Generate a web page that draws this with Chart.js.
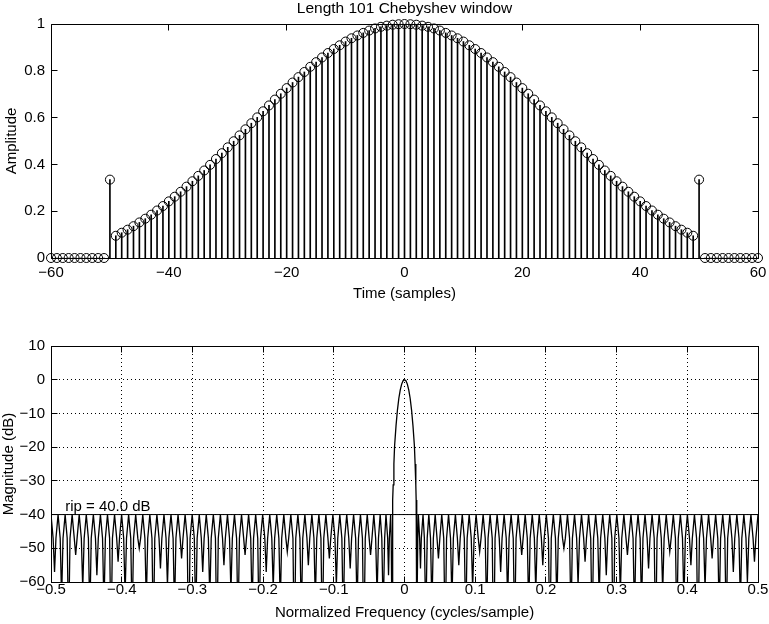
<!DOCTYPE html>
<html>
<head>
<meta charset="utf-8">
<title>Length 101 Chebyshev window</title>
<script src="https://cdn.jsdelivr.net/npm/chart.js@4.4.1/dist/chart.umd.min.js"></script>
<style>
    html, body { margin: 0; padding: 0; background: #fff; }
    .panel { position: absolute; left: 0; width: 769px; height: 312px; }
    #top-panel { top: 0; }
    #bottom-panel { top: 312px; }
</style>
</head>
<body>
<div class="panel" id="top-panel"><canvas id="window-chart" width="769" height="312"></canvas></div>
<div class="panel" id="bottom-panel"><canvas id="response-chart" width="769" height="312"></canvas></div>
<script>
// Time axis of the stem plot (samples)
const timeSamples = [
    -60, -59, -58, -57, -56, -55, -54, -53, -52, -51,
    -50, -49, -48, -47, -46, -45, -44, -43, -42, -41,
    -40, -39, -38, -37, -36, -35, -34, -33, -32, -31,
    -30, -29, -28, -27, -26, -25, -24, -23, -22, -21,
    -20, -19, -18, -17, -16, -15, -14, -13, -12, -11,
    -10, -9, -8, -7, -6, -5, -4, -3, -2, -1,
    0,
    1, 2, 3, 4, 5, 6, 7, 8, 9, 10,
    11, 12, 13, 14, 15, 16, 17, 18, 19, 20,
    21, 22, 23, 24, 25, 26, 27, 28, 29, 30,
    31, 32, 33, 34, 35, 36, 37, 38, 39, 40,
    41, 42, 43, 44, 45, 46, 47, 48, 49, 50,
    51, 52, 53, 54, 55, 56, 57, 58, 59, 60
];

// Window amplitude at each sample
const windowAmplitude = [
    0, 0, 0, 0, 0, 0, 0, 0, 0, 0,
    0.335, 0.095, 0.108, 0.121, 0.136, 0.152, 0.168, 0.185, 0.203, 0.222,
    0.242, 0.262, 0.283, 0.305, 0.328, 0.351, 0.374, 0.398, 0.423, 0.448,
    0.473, 0.499, 0.524, 0.550, 0.576, 0.601, 0.627, 0.652, 0.677, 0.702,
    0.726, 0.750, 0.773, 0.795, 0.817, 0.837, 0.857, 0.876, 0.893, 0.909,
    0.925, 0.939, 0.951, 0.962, 0.972, 0.981, 0.988, 0.993, 0.997, 0.999,
    1.000,
    0.999, 0.997, 0.993, 0.988, 0.981, 0.972, 0.962, 0.951, 0.939, 0.925,
    0.909, 0.893, 0.876, 0.857, 0.837, 0.817, 0.795, 0.773, 0.750, 0.726,
    0.702, 0.677, 0.652, 0.627, 0.601, 0.576, 0.550, 0.524, 0.499, 0.473,
    0.448, 0.423, 0.398, 0.374, 0.351, 0.328, 0.305, 0.283, 0.262, 0.242,
    0.222, 0.203, 0.185, 0.168, 0.152, 0.136, 0.121, 0.108, 0.095, 0.335,
    0, 0, 0, 0, 0, 0, 0, 0, 0, 0
];

// Frequency response: normalized frequency (cycles/sample) and magnitude (dB)
const freqAxis = [
    -0.5,
    -0.4970, -0.4950, -0.4930, -0.4900,
    -0.4870, -0.4850, -0.4830, -0.4800,
    -0.4771, -0.4751, -0.4731, -0.4701,
    -0.4671, -0.4651, -0.4631, -0.4601,
    -0.4571, -0.4551, -0.4531, -0.4501,
    -0.4471, -0.4451, -0.4431, -0.4401,
    -0.4371, -0.4351, -0.4331, -0.4301,
    -0.4271, -0.4251, -0.4231, -0.4201,
    -0.4171, -0.4151, -0.4131, -0.4101,
    -0.4071, -0.4051, -0.4031, -0.4001,
    -0.3972, -0.3952, -0.3932, -0.3902,
    -0.3872, -0.3852, -0.3832, -0.3802,
    -0.3772, -0.3752, -0.3732, -0.3702,
    -0.3672, -0.3652, -0.3632, -0.3602,
    -0.3572, -0.3552, -0.3532, -0.3502,
    -0.3472, -0.3452, -0.3432, -0.3402,
    -0.3373, -0.3353, -0.3333, -0.3303,
    -0.3273, -0.3253, -0.3233, -0.3203,
    -0.3173, -0.3153, -0.3133, -0.3103,
    -0.3073, -0.3053, -0.3033, -0.3003,
    -0.2973, -0.2953, -0.2933, -0.2903,
    -0.2874, -0.2854, -0.2834, -0.2804,
    -0.2774, -0.2754, -0.2734, -0.2704,
    -0.2674, -0.2654, -0.2634, -0.2604,
    -0.2574, -0.2554, -0.2534, -0.2504,
    -0.2475, -0.2455, -0.2435, -0.2405,
    -0.2375, -0.2355, -0.2335, -0.2305,
    -0.2275, -0.2255, -0.2235, -0.2205,
    -0.2175, -0.2155, -0.2135, -0.2105,
    -0.2076, -0.2056, -0.2036, -0.2006,
    -0.1976, -0.1956, -0.1936, -0.1906,
    -0.1877, -0.1857, -0.1837, -0.1807,
    -0.1777, -0.1757, -0.1737, -0.1707,
    -0.1678, -0.1658, -0.1638, -0.1608,
    -0.1578, -0.1558, -0.1538, -0.1508,
    -0.1479, -0.1459, -0.1439, -0.1409,
    -0.1380, -0.1360, -0.1340, -0.1310,
    -0.1281, -0.1261, -0.1241, -0.1211,
    -0.1182, -0.1162, -0.1142, -0.1112,
    -0.1083, -0.1063, -0.1043, -0.1013,
    -0.0984, -0.0964, -0.0944, -0.0915,
    -0.0886, -0.0866, -0.0846, -0.0817,
    -0.0788, -0.0768, -0.0748, -0.0720,
    -0.0691, -0.0671, -0.0651, -0.0623,
    -0.0595, -0.0575, -0.0555, -0.0527,
    -0.0500, -0.0480, -0.0460, -0.0434,
    -0.0408, -0.0388, -0.0368, -0.0344,
    -0.0321, -0.0301, -0.0281, -0.0262,
    -0.0238, -0.0226, -0.0214, -0.0196,
    -0.0188, -0.0176,
    -0.017, -0.0165, -0.016, -0.015, -0.014, -0.012, -0.010, -0.008, -0.006, -0.004, -0.002,
    0,
    0.002, 0.004, 0.006, 0.008, 0.010, 0.012, 0.014, 0.015, 0.016, 0.0165, 0.017,
    0.0176, 0.0188, 0.0196,
    0.0214, 0.0226, 0.0238, 0.0262,
    0.0281, 0.0301, 0.0321, 0.0344,
    0.0368, 0.0388, 0.0408, 0.0434,
    0.0460, 0.0480, 0.0500, 0.0527,
    0.0555, 0.0575, 0.0595, 0.0623,
    0.0651, 0.0671, 0.0691, 0.0720,
    0.0748, 0.0768, 0.0788, 0.0817,
    0.0846, 0.0866, 0.0886, 0.0915,
    0.0944, 0.0964, 0.0984, 0.1013,
    0.1043, 0.1063, 0.1083, 0.1112,
    0.1142, 0.1162, 0.1182, 0.1211,
    0.1241, 0.1261, 0.1281, 0.1310,
    0.1340, 0.1360, 0.1380, 0.1409,
    0.1439, 0.1459, 0.1479, 0.1508,
    0.1538, 0.1558, 0.1578, 0.1608,
    0.1638, 0.1658, 0.1678, 0.1707,
    0.1737, 0.1757, 0.1777, 0.1807,
    0.1837, 0.1857, 0.1877, 0.1906,
    0.1936, 0.1956, 0.1976, 0.2006,
    0.2036, 0.2056, 0.2076, 0.2105,
    0.2135, 0.2155, 0.2175, 0.2205,
    0.2235, 0.2255, 0.2275, 0.2305,
    0.2335, 0.2355, 0.2375, 0.2405,
    0.2435, 0.2455, 0.2475, 0.2504,
    0.2534, 0.2554, 0.2574, 0.2604,
    0.2634, 0.2654, 0.2674, 0.2704,
    0.2734, 0.2754, 0.2774, 0.2804,
    0.2834, 0.2854, 0.2874, 0.2903,
    0.2933, 0.2953, 0.2973, 0.3003,
    0.3033, 0.3053, 0.3073, 0.3103,
    0.3133, 0.3153, 0.3173, 0.3203,
    0.3233, 0.3253, 0.3273, 0.3303,
    0.3333, 0.3353, 0.3373, 0.3402,
    0.3432, 0.3452, 0.3472, 0.3502,
    0.3532, 0.3552, 0.3572, 0.3602,
    0.3632, 0.3652, 0.3672, 0.3702,
    0.3732, 0.3752, 0.3772, 0.3802,
    0.3832, 0.3852, 0.3872, 0.3902,
    0.3932, 0.3952, 0.3972, 0.4001,
    0.4031, 0.4051, 0.4071, 0.4101,
    0.4131, 0.4151, 0.4171, 0.4201,
    0.4231, 0.4251, 0.4271, 0.4301,
    0.4331, 0.4351, 0.4371, 0.4401,
    0.4431, 0.4451, 0.4471, 0.4501,
    0.4531, 0.4551, 0.4571, 0.4601,
    0.4631, 0.4651, 0.4671, 0.4701,
    0.4731, 0.4751, 0.4771, 0.4800,
    0.4830, 0.4850, 0.4870, 0.4900,
    0.4930, 0.4950, 0.4970, 0.5
];

const magnitudeDb = [
    -40,
    -47, -57, -47, -40,
    -47, -65, -47, -40,
    -47, -76, -47, -40,
    -47, -52, -47, -40,
    -47, -62, -47, -40,
    -47, -71, -47, -40,
    -47, -58, -47, -40,
    -47, -68, -47, -40,
    -47, -79, -47, -40,
    -47, -54, -47, -40,
    -47, -64, -47, -40,
    -47, -73, -47, -40,
    -47, -50, -47, -40,
    -47, -66, -47, -40,
    -47, -77, -47, -40,
    -47, -56, -47, -40,
    -47, -61, -47, -40,
    -47, -69, -47, -40,
    -47, -53, -47, -40,
    -47, -84, -47, -40,
    -47, -72, -47, -40,
    -47, -57, -47, -40,
    -47, -65, -47, -40,
    -47, -80, -47, -40,
    -47, -55, -47, -40,
    -47, -63, -47, -40,
    -47, -74, -47, -40,
    -47, -52, -47, -40,
    -47, -69, -47, -40,
    -47, -76, -47, -40,
    -47, -57, -47, -40,
    -47, -62, -47, -40,
    -47, -67, -47, -40,
    -47, -51, -47, -40,
    -47, -83, -47, -40,
    -47, -71, -47, -40,
    -47, -55, -47, -40,
    -47, -66, -47, -40,
    -47, -78, -47, -40,
    -47, -53, -47, -40,
    -47, -61, -47, -40,
    -47, -73, -47, -40,
    -47, -56, -47, -40,
    -47, -68, -47, -40,
    -47, -81, -47, -40,
    -47, -52, -47, -40,
    -47, -64, -47, -40,
    -47, -70, -47, -40,
    -47, -58, -47, -40,
    -47, -75,
    -42.3, -35.7, -31.2, -25.0, -19.6, -13.7, -9.0, -5.5, -3.0, -1.3, -0.3,
    0,
    -0.3, -1.3, -3.0, -5.5, -9.0, -13.7, -19.6, -25.0, -31.2, -35.7, -42.3,
    -75, -47, -40,
    -47, -56, -47, -40,
    -47, -72, -47, -40,
    -47, -68, -47, -40,
    -47, -53, -47, -40,
    -47, -78, -47, -40,
    -47, -66, -47, -40,
    -47, -55, -47, -40,
    -47, -74, -47, -40,
    -47, -62, -47, -40,
    -47, -51, -47, -40,
    -47, -70, -47, -40,
    -47, -84, -47, -40,
    -47, -57, -47, -40,
    -47, -66, -47, -40,
    -47, -76, -47, -40,
    -47, -52, -47, -40,
    -47, -69, -47, -40,
    -47, -63, -47, -40,
    -47, -55, -47, -40,
    -47, -80, -47, -40,
    -47, -67, -47, -40,
    -47, -50, -47, -40,
    -47, -72, -47, -40,
    -47, -61, -47, -40,
    -47, -54, -47, -40,
    -47, -77, -47, -40,
    -47, -65, -47, -40,
    -47, -58, -47, -40,
    -47, -86, -47, -40,
    -47, -64, -47, -40,
    -47, -52, -47, -40,
    -47, -71, -47, -40,
    -47, -68, -47, -40,
    -47, -56, -47, -40,
    -47, -79, -47, -40,
    -47, -63, -47, -40,
    -47, -51, -47, -40,
    -47, -74, -47, -40,
    -47, -66, -47, -40,
    -47, -55, -47, -40,
    -47, -82, -47, -40,
    -47, -62, -47, -40,
    -47, -53, -47, -40,
    -47, -70, -47, -40,
    -47, -75, -47, -40,
    -47, -57, -47, -40,
    -47, -67, -47, -40,
    -47, -60, -47, -40,
    -47, -54, -47, -40
];

// Sidelobe ripple level and its label
const rippleDb = -40;
const rippleFreqRange = [-0.5, 0.5];
const rippleLabel = 'rip = 40.0 dB';
const rippleLabelAt = { x: -0.48, y: -38.9 };

// Axis ticks
const timeTicks = { min: -60, max: 60, step: 20 };
const ampTicks = { min: 0, max: 1, step: 0.2 };
const freqTicks = { min: -0.5, max: 0.5, step: 0.1 };
const dbTicks = { min: -60, max: 10, step: 10 };

Chart.defaults.font.family = '"Liberation Sans", Arial, Helvetica, sans-serif';
Chart.defaults.font.size = 15;
Chart.defaults.color = '#000';

function tickText(v) {
    return String(Math.round(v * 100) / 100).replace('-', '\u2212');
}

/**
 * Box round the plot area with inward tick marks, plus optional title / text label
 */
const framePlugin = {
    id: 'frame',
    afterDatasetsDraw(chart, args, opts) {
        const { ctx, chartArea: a, scales } = chart;
        const L = Math.floor(a.left) + 0.5, R = Math.floor(a.right) + 0.5;
        const T = Math.floor(a.top) + 0.5, B = Math.floor(a.bottom) + 0.5;
        const len = 6;
        ctx.save();
        ctx.strokeStyle = '#000';
        ctx.lineWidth = 1;
        ctx.setLineDash([]);
        ctx.beginPath();
        ctx.rect(L, T, R - L, B - T);
        scales.x.ticks.forEach(t => {
            const px = Math.floor(scales.x.getPixelForValue(t.value)) + 0.5;
            ctx.moveTo(px, B); ctx.lineTo(px, B - len);
            ctx.moveTo(px, T); ctx.lineTo(px, T + len);
        });
        scales.y.ticks.forEach(t => {
            const py = Math.floor(scales.y.getPixelForValue(t.value)) + 0.5;
            ctx.moveTo(L, py); ctx.lineTo(L + len, py);
            ctx.moveTo(R, py); ctx.lineTo(R - len, py);
        });
        ctx.stroke();

        ctx.fillStyle = '#000';
        ctx.font = '15px "Liberation Sans", Arial, Helvetica, sans-serif';
        if (opts.title) {
            ctx.font = '15.5px "Liberation Sans", Arial, Helvetica, sans-serif';
            ctx.textAlign = 'center';
            ctx.textBaseline = 'alphabetic';
            ctx.fillText(opts.title, (a.left + a.right) / 2, 12.5);
        }
        if (opts.label) {
            ctx.font = '15px "Liberation Sans", Arial, Helvetica, sans-serif';
            ctx.textAlign = 'left';
            ctx.textBaseline = 'alphabetic';
            ctx.fillText(opts.label.text,
                scales.x.getPixelForValue(opts.label.x),
                scales.y.getPixelForValue(opts.label.y));
        }
        ctx.restore();
    }
};

function fixWidth(w) {
    return scale => { scale.width = w; scale.paddingTop = 0; scale.paddingBottom = 0; };
}
function fixHeight(h) {
    return scale => { scale.height = h; scale.paddingLeft = 0; scale.paddingRight = 0; };
}

// Top panel: stem plot of the window
const stemPoints = timeSamples.map((n, i) => ({ x: n, y: windowAmplitude[i] }));

new Chart(document.getElementById('window-chart'), {
    type: 'bar',
    data: {
        datasets: [
            {
                type: 'bar',
                data: stemPoints,
                backgroundColor: '#000',
                borderWidth: 0,
                barThickness: 1,
                order: 2
            },
            {
                type: 'scatter',
                data: stemPoints,
                pointStyle: 'circle',
                pointRadius: 4.5,
                pointBorderWidth: 1,
                pointBorderColor: '#000',
                pointBackgroundColor: 'rgba(0,0,0,0)',
                clip: false,
                order: 1
            }
        ]
    },
    options: {
        responsive: false,
        devicePixelRatio: 1,
        animation: false,
        layout: { padding: { top: 24, right: 11, bottom: 0, left: 0 } },
        plugins: {
            legend: { display: false },
            tooltip: { enabled: false },
            frame: { title: 'Length 101 Chebyshev window' }
        },
        scales: {
            x: {
                type: 'linear',
                offset: false,
                min: timeTicks.min,
                max: timeTicks.max,
                afterFit: fixHeight(54),
                grid: { display: false, drawTicks: false },
                border: { display: false },
                ticks: { stepSize: timeTicks.step, padding: 6, maxRotation: 0, callback: tickText },
                title: { display: true, text: 'Time (samples)', padding: { top: 0, bottom: 9 } }
            },
            y: {
                type: 'linear',
                min: ampTicks.min,
                max: ampTicks.max,
                afterFit: fixWidth(51),
                grid: { display: false, drawTicks: false },
                border: { display: false },
                ticks: { stepSize: ampTicks.step, padding: 6, callback: tickText },
                title: { display: true, text: 'Amplitude', padding: { top: 3, bottom: 0 } }
            }
        }
    },
    plugins: [framePlugin]
});

// Bottom panel: frequency response
const responsePoints = freqAxis.map((f, i) => ({ x: f, y: magnitudeDb[i] }));
const ripplePoints = rippleFreqRange.map(f => ({ x: f, y: rippleDb }));

new Chart(document.getElementById('response-chart'), {
    type: 'line',
    data: {
        datasets: [
            {
                data: responsePoints,
                borderColor: '#000',
                borderWidth: 1.3,
                pointRadius: 0,
                tension: 0
            },
            {
                data: ripplePoints,
                borderColor: '#000',
                borderWidth: 1,
                pointRadius: 0
            }
        ]
    },
    options: {
        responsive: false,
        devicePixelRatio: 1,
        animation: false,
        layout: { padding: { top: 34, right: 11, bottom: 0, left: 0 } },
        plugins: {
            legend: { display: false },
            tooltip: { enabled: false },
            frame: { label: { text: rippleLabel, x: rippleLabelAt.x, y: rippleLabelAt.y } }
        },
        scales: {
            x: {
                type: 'linear',
                min: freqTicks.min,
                max: freqTicks.max,
                afterFit: fixHeight(42),
                grid: { display: true, drawTicks: false, color: '#000', lineWidth: 1, borderDash: [1, 3] },
                border: { display: false, dash: [1, 3] },
                ticks: { stepSize: freqTicks.step, padding: -1, maxRotation: 0, callback: tickText },
                title: { display: true, text: 'Normalized Frequency (cycles/sample)', padding: { top: 0, bottom: 2 } }
            },
            y: {
                type: 'linear',
                min: dbTicks.min,
                max: dbTicks.max,
                afterFit: fixWidth(51),
                grid: { display: true, drawTicks: false, color: '#000', lineWidth: 1, borderDash: [1, 3] },
                border: { display: false, dash: [1, 3] },
                ticks: { stepSize: dbTicks.step, padding: 6, callback: tickText },
                title: { display: true, text: 'Magnitude (dB)', padding: { top: 0, bottom: 0 } }
            }
        }
    },
    plugins: [framePlugin]
});
</script>
</body>
</html>
